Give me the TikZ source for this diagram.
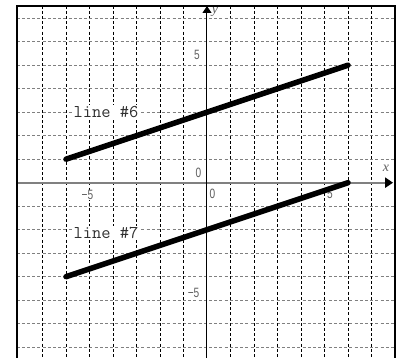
\documentclass[tikz,border=0pt]{standalone}
\usepackage{fontspec}
\usetikzlibrary{arrows.meta}
\newfontfamily\tickf[FakeStretch=0.75]{Liberation Sans}
\newfontfamily\axf{Liberation Serif}
\definecolor{gridgray}{HTML}{808080}
\definecolor{ticktxt}{HTML}{606060}
\definecolor{labtxt}{HTML}{303030}
\tikzset{
  vgrid/.style={black, line width=0.9pt, dash pattern=on 3pt off 2.2pt},
  hgrid/.style={gridgray, line width=1pt, dash pattern=on 3pt off 2.2pt},
  tick/.style={text=ticktxt, fill=white, font=\tickf\fontsize{13.5}{14}\selectfont, inner sep=0.5pt},
  axlab/.style={text=ticktxt, font=\axf\itshape\fontsize{14}{14}\selectfont, inner sep=0pt},
  linelab/.style={text=labtxt, fill=white, font=\ttfamily\fontsize{18}{18}\selectfont, inner sep=1pt},
  graphline/.style={black, line width=5.5pt, line cap=round},
  frameline/.style={black, line width=2pt}
}
\begin{document}
\begin{tikzpicture}[x=23.5pt,y=23.5pt]
\clip (-8.8085,-7.4596) rectangle (8.0426,7.7745);
\fill[white] (-8.8085,-7.4596) rectangle (8.0426,7.7745);
% grid
\foreach \i in {-7,-6,-5,-4,-3,-2,-1,1,2,3,4,5,6,7} {
  \draw[hgrid] (-8.098,\i) -- (8,\i);
  \draw[vgrid] (\i,7.532) -- (\i,-7.6);
}
% axes
\coordinate (xstart) at (-8.098,0);
\coordinate (xend) at (7.92,0);
\coordinate (ystart) at (0,-7.6);
\coordinate (yend) at (0,7.52);
\draw[gridgray, line width=2pt, -{Triangle[width=10pt,length=8pt,black]}] (xstart) -- (xend);
\draw[black, line width=1pt, -{Triangle[width=9pt,length=7pt]}] (ystart) -- (yend);
% tick labels
\node[tick] (t5y) at (-0.43,5.43) {5};
\node[tick] (t0y) at (-0.36,0.41) {0};
\node[tick] (t0x) at (0.23,-0.48) {0};
\node[tick] (tm5x) at (-5.085,-0.52) {\textminus 5};
\node[tick] (t5x) at (5.23,-0.48) {5};
\node[tick] (tm5y) at (-0.57,-4.67) {\textminus 5};
\node[axlab] (ylab) at (0.34,7.26) {y};
\node[axlab] (xlab) at (7.62,0.60) {x};
% lines
\coordinate (a6) at (-6,1);
\coordinate (b6) at (6,5);
\coordinate (a7) at (-6,-4);
\coordinate (b7) at (6,0);
\draw[graphline] (a6) -- (b6);
\draw[graphline] (a7) -- (b7);
\node[linelab] (l6) at (-4.30,3.01) {line \#6};
\node[linelab] (l7) at (-4.30,-2.14) {line \#7};
% frame
\draw[frameline] (-8.098,-8) -- (-8.098,7.532) -- (8,7.532) -- (8,-8);
\end{tikzpicture}
\end{document}
